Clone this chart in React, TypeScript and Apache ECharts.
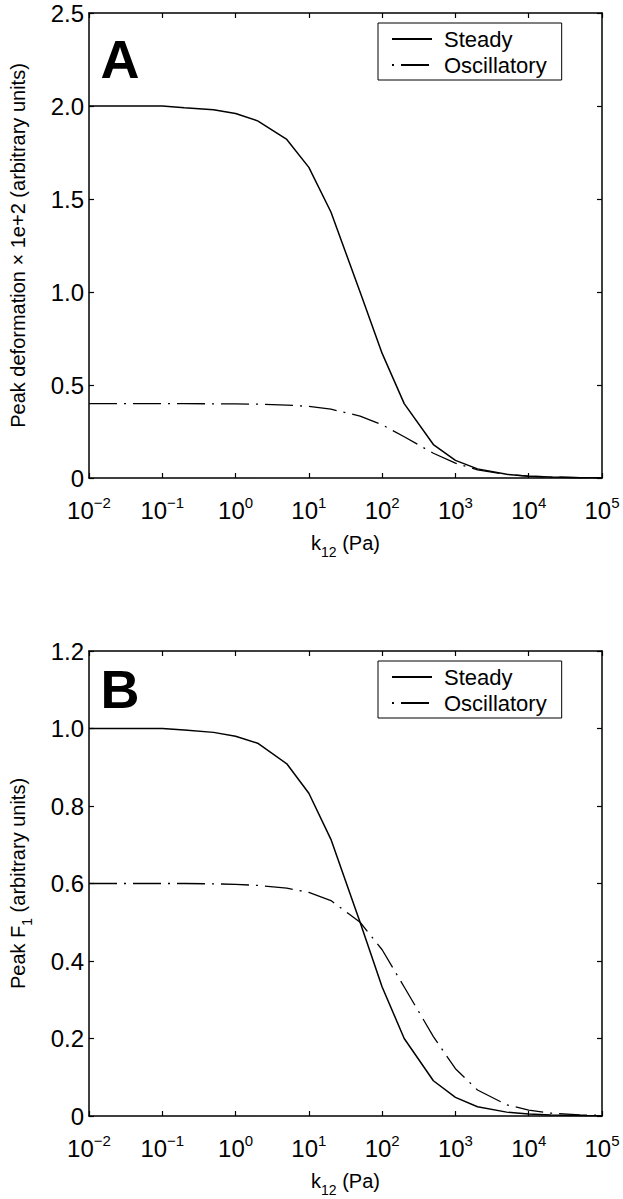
import React, { useEffect, useRef } from 'react';
import * as echarts from 'echarts';

// k12 (Pa) sample points
const kValues = [0.01, 0.02, 0.05, 0.1, 0.2, 0.5, 1, 2, 5, 10, 20, 50, 100, 200, 500, 1000, 2000, 5000, 10000, 20000, 50000, 100000];
// Panel A: peak deformation x 1e+2
const steadyA = [2.0, 2.0, 2.0, 2.0, 1.99, 1.98, 1.96, 1.92, 1.82, 1.67, 1.43, 1.0, 0.67, 0.4, 0.18, 0.095, 0.049, 0.02, 0.01, 0.005, 0.002, 0.001];
const oscA = [0.4, 0.4, 0.4, 0.4, 0.4, 0.399, 0.398, 0.397, 0.392, 0.385, 0.37, 0.333, 0.286, 0.222, 0.133, 0.08, 0.044, 0.019, 0.01, 0.005, 0.002, 0.001];
// Panel B: peak F1
const steadyB = [1.0, 1.0, 1.0, 1.0, 0.996, 0.99, 0.98, 0.962, 0.909, 0.833, 0.714, 0.5, 0.333, 0.2, 0.091, 0.048, 0.024, 0.01, 0.005, 0.0025, 0.001, 0.0005];
const oscB = [0.6, 0.6, 0.6, 0.6, 0.6, 0.599, 0.598, 0.595, 0.588, 0.577, 0.556, 0.5, 0.429, 0.333, 0.205, 0.122, 0.067, 0.029, 0.015, 0.0074, 0.003, 0.0015];

const seriesNames = ['Steady', 'Oscillatory'];
const panelLabels = ['A', 'B'];
const yTitleA = 'Peak deformation \u00d7 1e+2 (arbitrary units)';
const yTitleB = ['Peak F', '1', ' (arbitrary units)'];
const xTitle = ['k', '12', ' (Pa)'];

const FONT = "'Liberation Sans', Arial, Helvetica, sans-serif";
const DASH_DOT = [28, 7, 2, 7];

const pair = (ys: number[]) => kValues.map((k, i) => [k, ys[i]]);

const powFmt = (v: number) => {
  const e = Math.round(Math.log10(v));
  const s = e < 0 ? '\u2212' + -e : String(e);
  return `{b|10}{s|${s}}`;
};
const yFmt = (v: number) => (v === 0 ? '0' : v.toFixed(1));

const axisLineStyle = { color: '#000', width: 1.5 };
const tickStyle = { show: true, inside: true, length: 5, lineStyle: { color: '#000', width: 1.2 } };

const subRich = {
  b: { fontSize: 20, lineHeight: 20, verticalAlign: 'top', fontFamily: FONT, color: '#000' },
  s: { fontSize: 14, lineHeight: 26, verticalAlign: 'bottom', fontFamily: FONT, color: '#000' },
};

function xAxes(gridIndex: number) {
  return [
    {
      type: 'log', logBase: 10, gridIndex, min: 0.01, max: 100000, splitNumber: 7, position: 'bottom',
      axisLine: { show: true, onZero: false, lineStyle: axisLineStyle },
      axisTick: tickStyle,
      minorTick: { show: false }, splitLine: { show: false },
      axisLabel: {
        margin: 17, formatter: powFmt, color: '#000',
        rich: {
          b: { fontSize: 24, lineHeight: 30, fontFamily: FONT, color: '#000' },
          s: { fontSize: 15, lineHeight: 10, verticalAlign: 'top', fontFamily: FONT, color: '#000' },
        },
      },
      name: `{b|${xTitle[0]}}{s|${xTitle[1]}}{b|${xTitle[2]}}`,
      nameLocation: 'middle', nameGap: 55,
      nameTextStyle: { rich: subRich },
    },
    {
      type: 'log', logBase: 10, gridIndex, min: 0.01, max: 100000, splitNumber: 7, position: 'top',
      axisLine: { show: true, onZero: false, lineStyle: axisLineStyle },
      axisTick: tickStyle, axisLabel: { show: false },
      minorTick: { show: false }, splitLine: { show: false },
    },
  ];
}

function yAxes(gridIndex: number, max: number, interval: number, name: string, rich: any, nameGap: number) {
  return [
    {
      type: 'value', gridIndex, min: 0, max, interval, position: 'left',
      axisLine: { show: true, onZero: false, lineStyle: axisLineStyle },
      axisTick: tickStyle, splitLine: { show: false },
      axisLabel: { margin: 5, formatter: yFmt, fontSize: 24, fontFamily: FONT, color: '#000' },
      name, nameLocation: 'middle', nameGap, nameRotate: 90,
      nameTextStyle: { rich },
    },
    {
      type: 'value', gridIndex, min: 0, max, interval, position: 'right',
      axisLine: { show: true, onZero: false, lineStyle: axisLineStyle },
      axisTick: tickStyle, splitLine: { show: false }, axisLabel: { show: false },
    },
  ];
}

function legend(top: number) {
  return {
    left: 378, top, orient: 'vertical', selectedMode: false,
    backgroundColor: '#fff', borderColor: '#000', borderWidth: 1, borderRadius: 0,
    padding: [5, 15, 4, 13], itemGap: 4, itemWidth: 40, itemHeight: 14,
    itemStyle: { color: 'rgba(0,0,0,0)', borderWidth: 0, opacity: 0 },
    textStyle: { fontSize: 22, fontFamily: FONT, color: '#000', padding: [0, 0, 0, 7] },
    data: [seriesNames[0], { name: seriesNames[1], lineStyle: { dashOffset: 35 } }],
  };
}

function lineSeries(name: string, data: number[][], axis: number, dashed: boolean) {
  return {
    type: 'line', name, data, xAxisIndex: axis, yAxisIndex: axis,
    symbol: 'none', smooth: false, silent: true,
    lineStyle: { color: '#000', width: dashed ? 1.3 : 1.5, type: dashed ? DASH_DOT : 'solid' },
    itemStyle: { color: '#000' },
  };
}

export default function App() {
  const ref = useRef<HTMLDivElement>(null);
  useEffect(() => {
    document.body.style.margin = '0';
    if (!ref.current) return;
    const chart = echarts.init(ref.current, undefined, { renderer: 'svg' });
    const richA = { b: { fontSize: 20, lineHeight: 20, fontFamily: FONT, color: '#000' } };
    chart.setOption({
      animation: false,
      backgroundColor: '#fff',
      textStyle: { fontFamily: FONT },
      grid: [
        { left: 77, top: 13, width: 525, height: 465 },
        { left: 77, top: 651, width: 525, height: 465 },
      ],
      xAxis: [...xAxes(0), ...xAxes(1)],
      yAxis: [
        ...yAxes(0, 2.5, 0.5, `{b|${yTitleA}}`, richA, 61),
        ...yAxes(1, 1.2, 0.2, `{b|${yTitleB[0]}}{s|${yTitleB[1]}}{b|${yTitleB[2]}}`, subRich, 55),
      ],
      legend: [legend(23), legend(661)],
      series: [
        lineSeries(seriesNames[0], pair(steadyA), 0, false),
        lineSeries(seriesNames[1], pair(oscA), 0, true),
        lineSeries(seriesNames[0], pair(steadyB), 2, false),
        lineSeries(seriesNames[1], pair(oscB), 2, true),
      ],
      graphic: [
        { type: 'text', x: 120, y: 59, style: { text: panelLabels[0], font: `bold 54px ${FONT}`, fill: '#000', textAlign: 'center', textVerticalAlign: 'middle' } },
        { type: 'text', x: 120, y: 689, style: { text: panelLabels[1], font: `bold 54px ${FONT}`, fill: '#000', textAlign: 'center', textVerticalAlign: 'middle' } },
      ],
    });
    return () => chart.dispose();
  }, []);
  return <div ref={ref} style={{ width: 623, height: 1199 }} />;
}
